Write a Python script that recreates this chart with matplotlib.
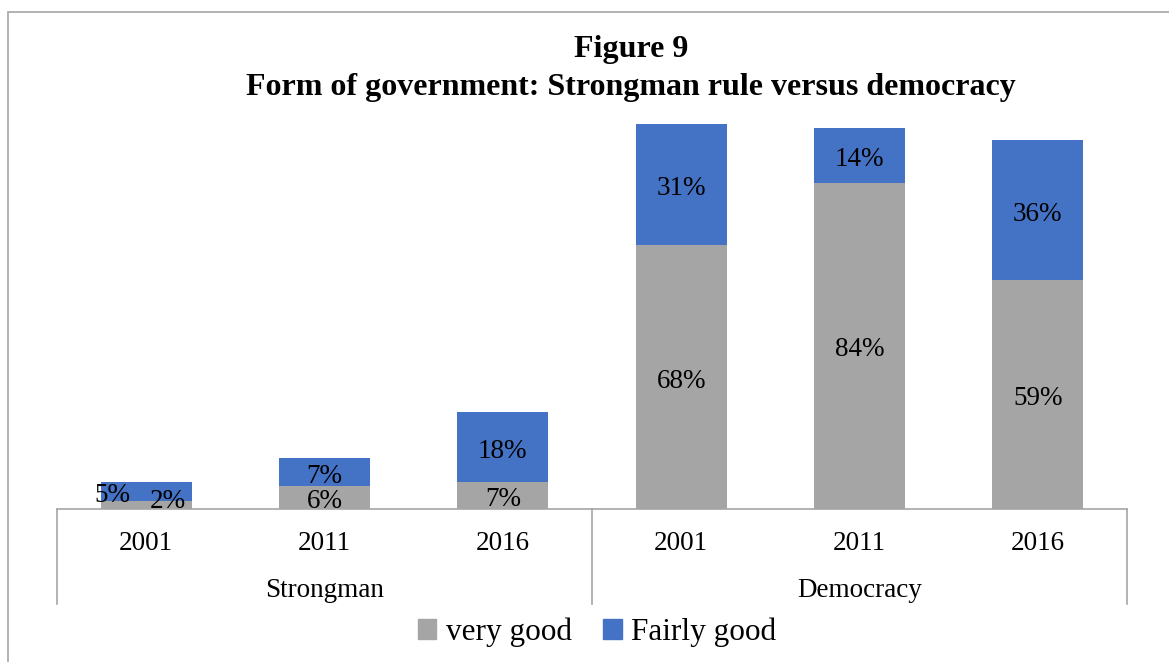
import matplotlib
matplotlib.use("Agg")
import matplotlib.pyplot as plt
from matplotlib.patches import Rectangle, Patch

plt.rcParams['font.family'] = ['Liberation Serif', 'DejaVu Serif']

groups = ['Strongman', 'Democracy']
years = ['2001', '2011', '2016']
very_good = [2, 6, 7, 68, 84, 59]
fairly_good = [5, 7, 18, 31, 14, 36]

grey = '#A5A5A5'
blue = '#4472C4'
line_col = '#A6A6A6'

W, H = 1169, 662
fig = plt.figure(figsize=(W / 100, H / 100), dpi=100)

# chart border (runs off the right/bottom edge)
fig.patches.append(Rectangle((8 / W, -0.05), 1.1, 1 - 12 / H + 0.05,
                             transform=fig.transFigure, fill=False,
                             edgecolor=line_col, lw=1.2))

left, right, bottom, top = 57, 1127, 509, 120.5
ax = fig.add_axes([left / W, 1 - bottom / H, (right - left) / W, (bottom - top) / H])

x = list(range(len(very_good)))
ax.bar(x, very_good, width=0.51, color=grey, label='very good')
ax.bar(x, fairly_good, width=0.51, bottom=very_good, color=blue, label='Fairly good')

ax.set_xlim(-0.5, len(x) - 0.5)
ax.set_ylim(0, 100)
ax.set_yticks([])
ax.set_xticks([])
for s in ['top', 'right', 'left']:
    ax.spines[s].set_visible(False)
ax.spines['bottom'].set_color(line_col)
ax.spines['bottom'].set_linewidth(1.2)

fs = 19.5


def label(xv, yv, txt, **kw):
    ax.annotate(txt, (xv, yv), xytext=(0, -3), textcoords='offset points',
                ha='center', va='center', fontsize=fs, **kw)


for i in x:
    vg, fg = very_good[i], fairly_good[i]
    if vg + fg < 10:
        # tiny bar: labels pushed apart so they stay readable
        label(i - 0.19, 4.6, f'{fg}%')
        label(i + 0.12, 3.1, f'{vg}%')
    else:
        label(i, vg / 2, f'{vg}%')
        label(i, vg + fg / 2, f'{fg}%')

# two-level category axis
xt = ax.get_xaxis_transform()
span = bottom - top
depth = (604 - 509) / span
for i, yr in enumerate(years * 2):
    label(i, -(539 - 509) / span, yr, xycoords=xt)
for g, name in enumerate(groups):
    label(g * 3 + 1, -(586 - 509) / span, name, xycoords=xt)
for xv in [-0.5, 2.5, 5.5]:
    ax.plot([xv, xv], [0, -depth], transform=xt, color=line_col, lw=1.2, clip_on=False)

fig.text(631 / W, 1 - 49 / H, 'Figure 9', ha='center', va='center',
         fontsize=23, fontweight='bold')
fig.text(631 / W, 1 - 88 / H, 'Form of government: Strongman rule versus democracy',
         ha='center', va='center', fontsize=23, fontweight='bold')

handles = [Patch(color=grey), Patch(color=blue)]
fig.legend(handles, ['very good', 'Fairly good'], loc='center',
           bbox_to_anchor=(597 / W, 1 - 632 / H), ncol=2, frameon=False,
           fontsize=22.5, handlelength=0.6, handleheight=0.6,
           handletextpad=0.3, columnspacing=1.0)

fig.savefig('out.png', dpi=100)
